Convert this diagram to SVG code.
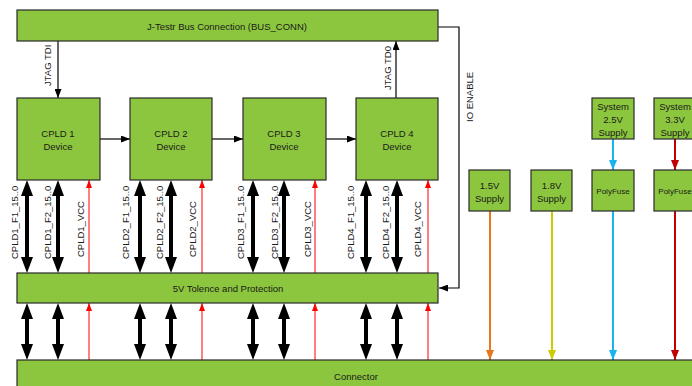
<svg xmlns="http://www.w3.org/2000/svg" width="692" height="386" viewBox="0 0 692 386">
<style>
.box{fill:#8cc63f;stroke:#2a2a2a;stroke-width:1.2}
.t{font-family:"Liberation Sans",Arial,sans-serif;font-size:9.5px;fill:#1a1a1a;text-anchor:middle}
.s{font-family:"Liberation Sans",Arial,sans-serif;font-size:8px;fill:#1a1a1a;text-anchor:middle}
.r{font-family:"Liberation Sans",Arial,sans-serif;font-size:9.5px;fill:#1a1a1a}
.bi{stroke:#000;stroke-width:4;marker-start:url(#bh);marker-end:url(#bh)}
.vcc{stroke:#ff0000;stroke-width:1;marker-end:url(#rh)}
.thin{stroke:#000;stroke-width:1.2;fill:none;marker-end:url(#kh)}
</style>
<defs>
<marker id="bh" markerUnits="userSpaceOnUse" markerWidth="16" markerHeight="12" refX="6" refY="6" orient="auto-start-reverse"><path d="M0,0 L16,6 L0,12 z" fill="#000"/></marker>
<marker id="rh" markerUnits="userSpaceOnUse" markerWidth="8" markerHeight="6" refX="8" refY="3" orient="auto"><path d="M0,0 L8,3 L0,6 z" fill="#ff0000"/></marker>
<marker id="kh" markerUnits="userSpaceOnUse" markerWidth="9" markerHeight="7" refX="9" refY="3.5" orient="auto"><path d="M0,0 L9,3.5 L0,7 z" fill="#000"/></marker>
<marker id="oh" markerUnits="userSpaceOnUse" markerWidth="10" markerHeight="8" refX="10" refY="4" orient="auto"><path d="M0,0 L10,4 L0,8 z" fill="#e8761e"/></marker>
<marker id="yh" markerUnits="userSpaceOnUse" markerWidth="10" markerHeight="8" refX="10" refY="4" orient="auto"><path d="M0,0 L10,4 L0,8 z" fill="#cccc00"/></marker>
<marker id="bl" markerUnits="userSpaceOnUse" markerWidth="10" markerHeight="8" refX="10" refY="4" orient="auto"><path d="M0,0 L10,4 L0,8 z" fill="#17b4ee"/></marker>
<marker id="dr" markerUnits="userSpaceOnUse" markerWidth="10" markerHeight="8" refX="10" refY="4" orient="auto"><path d="M0,0 L10,4 L0,8 z" fill="#c00000"/></marker>
</defs>

<g id="connectors">
<line class="thin" x1="58" y1="41" x2="58" y2="98"/>
<line class="thin" x1="396" y1="98" x2="396" y2="41"/>
<line class="thin" x1="100" y1="139" x2="130" y2="139"/>
<line class="thin" x1="212" y1="139" x2="243" y2="139"/>
<line class="thin" x1="326" y1="139" x2="356" y2="139"/>
<polyline class="thin" stroke="#333" points="438,27 459,27 459,288 439,288"/>
<g>
<line class="bi" x1="27" y1="190" x2="27" y2="263"/><line class="bi" x1="58" y1="190" x2="58" y2="263"/><line class="vcc" x1="89" y1="273" x2="89" y2="180"/>
<line class="bi" x1="140" y1="190" x2="140" y2="263"/><line class="bi" x1="171" y1="190" x2="171" y2="263"/><line class="vcc" x1="202" y1="273" x2="202" y2="180"/>
<line class="bi" x1="253" y1="190" x2="253" y2="263"/><line class="bi" x1="284" y1="190" x2="284" y2="263"/><line class="vcc" x1="315" y1="273" x2="315" y2="180"/>
<line class="bi" x1="366" y1="190" x2="366" y2="263"/><line class="bi" x1="397" y1="190" x2="397" y2="263"/><line class="vcc" x1="428" y1="273" x2="428" y2="180"/>
</g>
<g>
<line class="bi" x1="27" y1="313" x2="27" y2="350"/><line class="bi" x1="58" y1="313" x2="58" y2="350"/><line class="vcc" x1="89" y1="360" x2="89" y2="303"/>
<line class="bi" x1="140" y1="313" x2="140" y2="350"/><line class="bi" x1="171" y1="313" x2="171" y2="350"/><line class="vcc" x1="202" y1="360" x2="202" y2="303"/>
<line class="bi" x1="253" y1="313" x2="253" y2="350"/><line class="bi" x1="284" y1="313" x2="284" y2="350"/><line class="vcc" x1="315" y1="360" x2="315" y2="303"/>
<line class="bi" x1="366" y1="313" x2="366" y2="350"/><line class="bi" x1="397" y1="313" x2="397" y2="350"/><line class="vcc" x1="428" y1="360" x2="428" y2="303"/>
</g>
<line x1="490" y1="211" x2="490" y2="360" stroke="#e8761e" stroke-width="2" marker-end="url(#oh)"/>
<line x1="552" y1="211" x2="552" y2="360" stroke="#cccc00" stroke-width="2" marker-end="url(#yh)"/>
<line x1="613" y1="139" x2="613" y2="170" stroke="#17b4ee" stroke-width="2" marker-end="url(#bl)"/>
<line x1="613" y1="211" x2="613" y2="360" stroke="#17b4ee" stroke-width="2" marker-end="url(#bl)"/>
<line x1="675" y1="139" x2="675" y2="170" stroke="#c00000" stroke-width="2" marker-end="url(#dr)"/>
<line x1="675" y1="211" x2="675" y2="360" stroke="#c00000" stroke-width="2" marker-end="url(#dr)"/>
</g>

<g id="labels">
<text class="r" transform="translate(51,86) rotate(-90)">JTAG TDI</text>
<text class="r" transform="translate(391,90) rotate(-90)">JTAG TD0</text>
<text class="r" transform="translate(473,122) rotate(-90)">IO ENABLE</text>
<text class="r" transform="translate(18,259) rotate(-90)">CPLD1_F1_15..0</text>
<text class="r" transform="translate(51,259) rotate(-90)">CPLD1_F2_15..0</text>
<text class="r" transform="translate(84,257) rotate(-90)">CPLD1_VCC</text>
<text class="r" transform="translate(129,259) rotate(-90)">CPLD2_F1_15..0</text>
<text class="r" transform="translate(163,259) rotate(-90)">CPLD2_F2_15..0</text>
<text class="r" transform="translate(196,257) rotate(-90)">CPLD2_VCC</text>
<text class="r" transform="translate(244,259) rotate(-90)">CPLD3_F1_15..0</text>
<text class="r" transform="translate(278,259) rotate(-90)">CPLD3_F2_15..0</text>
<text class="r" transform="translate(311,257) rotate(-90)">CPLD3_VCC</text>
<text class="r" transform="translate(354,259) rotate(-90)">CPLD4_F1_15..0</text>
<text class="r" transform="translate(389,259) rotate(-90)">CPLD4_F2_15..0</text>
<text class="r" transform="translate(421,257) rotate(-90)">CPLD4_VCC</text>
</g>

<g id="bus_conn"><rect class="box" x="17" y="10" width="421" height="31"/><text class="t" x="227" y="30">J-Testr Bus Connection (BUS_CONN)</text></g>
<g id="cpld1"><rect class="box" x="17" y="98" width="83" height="82"/><text class="t" x="58" y="137">CPLD 1</text><text class="t" x="58" y="150">Device</text></g>
<g id="cpld2"><rect class="box" x="130" y="98" width="82" height="82"/><text class="t" x="171" y="137">CPLD 2</text><text class="t" x="171" y="150">Device</text></g>
<g id="cpld3"><rect class="box" x="243" y="98" width="83" height="82"/><text class="t" x="284" y="137">CPLD 3</text><text class="t" x="284" y="150">Device</text></g>
<g id="cpld4"><rect class="box" x="356" y="98" width="82" height="82"/><text class="t" x="397" y="137">CPLD 4</text><text class="t" x="397" y="150">Device</text></g>
<g id="protection"><rect class="box" x="17" y="273" width="421" height="30"/><text class="t" x="228" y="292">5V Tolence and Protection</text></g>
<g id="connector"><rect class="box" x="17" y="360" width="690" height="40"/><text class="t" x="356" y="380">Connector</text></g>
<g id="supply15"><rect class="box" x="469" y="170" width="41" height="41"/><text class="t" x="489.5" y="188.5">1.5V</text><text class="t" x="489.5" y="201.5">Supply</text></g>
<g id="supply18"><rect class="box" x="531" y="170" width="41" height="41"/><text class="t" x="551.5" y="188.5">1.8V</text><text class="t" x="551.5" y="201.5">Supply</text></g>
<g id="sys25"><rect class="box" x="592" y="98" width="42" height="41"/><text class="t" x="613" y="109.5">System</text><text class="t" x="613" y="122.5">2.5V</text><text class="t" x="613" y="135.5">Supply</text></g>
<g id="sys33"><rect class="box" x="654" y="98" width="42" height="41"/><text class="t" x="675" y="109.5">System</text><text class="t" x="675" y="122.5">3.3V</text><text class="t" x="675" y="135.5">Supply</text></g>
<g id="polyfuse1"><rect class="box" x="592" y="170" width="42" height="41"/><text class="s" x="613" y="194">PolyFuse</text></g>
<g id="polyfuse2"><rect class="box" x="654" y="170" width="42" height="41"/><text class="s" x="675" y="194">PolyFuse</text></g>
</svg>
